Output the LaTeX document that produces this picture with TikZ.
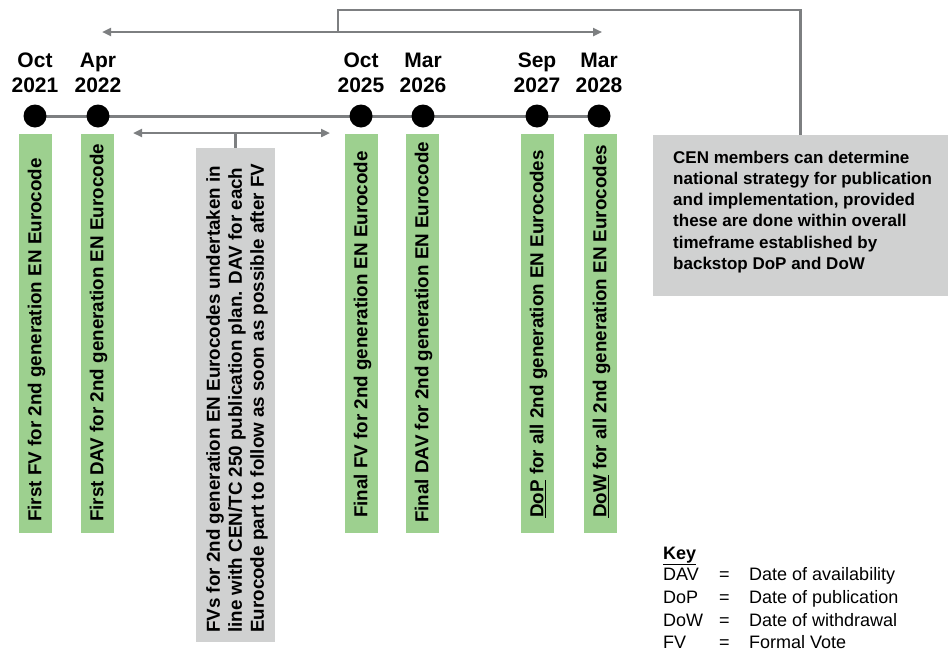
\documentclass[tikz,border=0pt]{standalone}
\usepackage{fontspec}
\setmainfont{Liberation Sans}
\usetikzlibrary{arrows.meta,backgrounds}
\definecolor{boxgreen}{RGB}{157,208,143}
\definecolor{boxgray}{RGB}{208,209,209}
\definecolor{linegray}{RGB}{125,127,129}
\tikzset{
  dot/.style={circle,fill=black,inner sep=0pt,minimum size=23pt},
  datelbl/.style={font=\bfseries\fontsize{21}{25}\selectfont,align=center,inner sep=0pt,anchor=south},
  gbox/.style={fill=boxgreen,inner sep=0pt,minimum width=33pt,minimum height=399pt},
  vlabel/.style={font=\bfseries\fontsize{18.8}{22}\selectfont,rotate=90,anchor=west,inner sep=0pt,align=left},
  graybox/.style={fill=boxgray,inner sep=0pt},
  tline/.style={draw=linegray,line width=3pt},
  conn/.style={draw=linegray,line width=2.6pt},
  dblarrow/.style={conn,{Triangle[length=9pt,width=8pt]}-{Triangle[length=9pt,width=8pt]}},
  keytxt/.style={font=\fontsize{18}{22}\selectfont,inner sep=0pt,anchor=base west},
}
\begin{document}
\begin{tikzpicture}[x=1pt,y=-1pt]
\useasboundingbox (0,0) rectangle (952,651);
% dots
\node[dot] (d1) at (35,116) {};
\node[dot] (d2) at (98,116) {};
\node[dot] (d3) at (361,116) {};
\node[dot] (d4) at (423,116) {};
\node[dot] (d5) at (537,116) {};
\node[dot] (d6) at (599,116) {};
\begin{pgfonlayer}{background}
\draw[tline] (d1.center) -- (d6.center);
\end{pgfonlayer}
% dates
\node[datelbl] (l1) at (35,93) {Oct\\2021};
\node[datelbl] (l2) at (98,93) {Apr\\2022};
\node[datelbl] (l3) at (361,93) {Oct\\2025};
\node[datelbl] (l4) at (423,93) {Mar\\2026};
\node[datelbl] (l5) at (537,93) {Sep\\2027};
\node[datelbl] (l6) at (599,93) {Mar\\2028};
% green boxes
\node[gbox] (b1) at (35.5,333.5) {};
\node[gbox] (b2) at (97.5,333.5) {};
\node[gbox] (b3) at (361.5,333.5) {};
\node[gbox] (b4) at (422.5,333.5) {};
\node[gbox] (b5) at (537.5,333.5) {};
\node[gbox] (b6) at (600.5,333.5) {};
\node[vlabel] (t1) at (36.5,522) {First FV for 2nd generation EN Eurocode};
\node[vlabel] (t2) at (98.5,522) {First DAV for 2nd generation EN Eurocode};
\node[vlabel] (t3) at (362.5,518) {Final FV for 2nd generation EN Eurocode};
\node[vlabel] (t4) at (423.5,523) {Final DAV for 2nd generation EN Eurocode};
\node[vlabel] (t5) at (538.5,518) {\underline{DoP} for all 2nd generation EN Eurocodes};
\node[vlabel] (t6) at (601.5,518) {\underline{DoW} for all 2nd generation EN Eurocodes};
% middle gray box
\node[graybox,minimum width=79pt,minimum height=494pt] (mb) at (235.5,395) {};
\node[vlabel] (mt) at (237,633) {FVs for 2nd generation EN Eurocodes undertaken in\\line with CEN/TC 250 publication plan. DAV for each\\Eurocode part to follow as soon as possible after FV};
\coordinate (ml) at (133,133);
\coordinate (mr) at (330,133);
\draw[dblarrow] (ml) -- (mr);
\draw[conn] (mb.north) -- (mb.north |- ml);
% right gray box
\node[graybox,minimum width=295pt,minimum height=161pt] (cb) at (800.5,215.5) {};
\node[font=\bfseries\fontsize{17}{21.3}\selectfont,align=left,inner sep=0pt,anchor=north west] (ct) at (673,150.5)
  {CEN members can determine\\national strategy for publication\\and implementation, provided\\these are done within overall\\timeframe established by\\backstop DoP and DoW};
% top bracket
\coordinate (la) at (102,32);
\coordinate (ra) at (602,32);
\coordinate (tb) at (338,10);
\draw[dblarrow] (la) -- (ra);
\draw[conn] (cb.north) |- (tb) -- (tb |- la);
% key
\node[keytxt,font=\bfseries\fontsize{18}{22}\selectfont] (k0) at (663,559) {\underline{Key}};
\node[keytxt] (k1a) at (663,580) {DAV};
\node[keytxt] (k1b) at (719,580) {=};
\node[keytxt] (k1c) at (749,580) {Date of availability};
\node[keytxt] (k2a) at (663,603) {DoP};
\node[keytxt] (k2b) at (719,603) {=};
\node[keytxt] (k2c) at (749,603) {Date of publication};
\node[keytxt] (k3a) at (663,626) {DoW};
\node[keytxt] (k3b) at (719,626) {=};
\node[keytxt] (k3c) at (749,626) {Date of withdrawal};
\node[keytxt] (k4a) at (663,648) {FV};
\node[keytxt] (k4b) at (719,648) {=};
\node[keytxt] (k4c) at (749,648) {Formal Vote};
\end{tikzpicture}
\end{document}
